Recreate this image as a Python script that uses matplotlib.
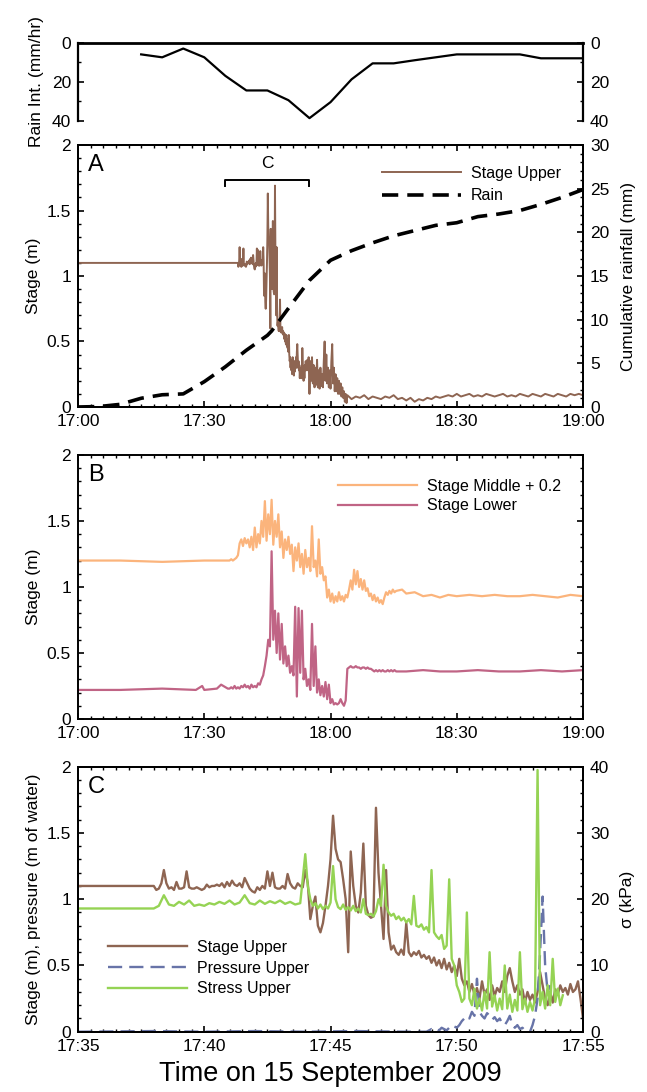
import numpy as np
import matplotlib
matplotlib.use("Agg")
import matplotlib.pyplot as plt
from matplotlib.ticker import MultipleLocator, FixedLocator, FuncFormatter

plt.rcParams["font.family"] = ["Liberation Sans", "DejaVu Sans"]
plt.rcParams["font.size"] = 12

# time is minutes after 17:00 on 15 September 2009

# ---- rain intensity (mm/hr), 5 min steps from 17:15
rain_int_t = [15, 20, 25, 30, 35, 40, 45, 50, 55, 60, 65, 70, 75, 80, 85, 90, 95, 100, 105, 110, 115, 120]
rain_int = [6, 7.5, 3, 7.5, 17, 24.5, 24.5, 29.5, 38.7, 30.5, 18.8, 10.6, 10.6, 9, 7.5, 6, 6, 6, 6, 8, 8, 8]

# ---- cumulative rainfall (mm)
rain_cum_t = [0, 5, 10, 15, 20, 25, 30, 35, 40, 45, 46, 50, 55, 60, 65, 70, 75, 80, 85, 90, 95, 100, 105, 110, 115, 120]
rain_cum = [0, 0.05, 0.3, 1.0, 1.4, 1.5, 2.9, 4.6, 6.5, 8.2, 8.7, 11.3, 14.5, 16.8, 17.9, 18.8, 19.6, 20.2, 20.8,
            21.1, 21.8, 22.1, 22.5, 23.2, 24.0, 24.9]

# ---- stage upper (m)
upper_pre_t = [0.0, 20.0, 37.9]
upper_pre = [1.10, 1.10, 1.10]
# 0.1 min steps 17:38.0 - 17:55.0
upper_fine = [
    1.10, 1.07, 1.08, 1.12, 1.22, 1.12, 1.08, 1.09, 1.07, 1.13,
    1.08, 1.08, 1.09, 1.21, 1.09, 1.08, 1.08, 1.09, 1.08, 1.07,
    1.08, 1.11, 1.09, 1.10, 1.10, 1.11, 1.10, 1.12, 1.09, 1.13,
    1.10, 1.14, 1.11, 1.10, 1.12, 1.09, 1.16, 1.12, 1.08, 1.06,
    1.05, 1.09, 1.07, 1.10, 1.08, 1.21, 1.10, 1.20, 1.09, 1.08,
    1.08, 1.10, 1.08, 1.19, 1.12, 1.09, 1.08, 1.12, 1.10, 1.09,
    1.22, 1.12, 0.85, 0.95, 1.02, 0.80, 0.75, 0.82, 0.95, 1.10,
    1.30, 1.63, 1.38, 1.30, 1.28, 1.15, 1.00, 0.60, 1.36, 1.10,
    0.95, 0.90, 1.05, 1.42, 0.95, 0.88, 0.86, 0.87, 1.69, 1.20,
    0.95, 0.70, 1.22, 0.75, 0.62, 0.65, 0.60, 0.58, 0.62, 0.58,
    0.82, 0.60, 0.57, 0.60, 0.58, 0.61, 0.56, 0.58, 0.55, 0.57,
    0.52, 0.56, 0.50, 0.54, 0.48, 0.55, 0.47, 0.52, 0.45, 0.50,
    0.42, 0.55, 0.40, 0.35, 0.38, 0.30, 0.36, 0.28, 0.33, 0.25,
    0.38, 0.28, 0.32, 0.24, 0.35, 0.27, 0.33, 0.30, 0.38, 0.30,
    0.42, 0.48, 0.38, 0.30, 0.35, 0.28, 0.32, 0.22, 0.30, 0.24,
    0.28, 0.22, 0.30, 0.45, 0.35, 0.25, 0.20, 0.30, 0.22, 0.32,
    0.28, 0.35, 0.30, 0.33, 0.28, 0.36, 0.30, 0.32, 0.38, 0.25,
    0.10,
]
# 0.2 min steps 17:55.2 - 18:04.0
upper_mid = [
    0.35, 0.20, 0.38, 0.18, 0.32, 0.15, 0.30, 0.17, 0.36, 0.15,
    0.28, 0.14, 0.30, 0.16, 0.25, 0.15, 0.35, 0.50, 0.20, 0.40,
    0.18, 0.30, 0.15, 0.28, 0.14, 0.35, 0.48, 0.18, 0.30, 0.12,
    0.25, 0.12, 0.22, 0.10, 0.20, 0.10, 0.18, 0.08, 0.15, 0.07,
    0.12, 0.04, 0.10, 0.03, 0.09,
]
# 1 min steps 18:05 - 19:00
upper_tail = [
    0.06, 0.08, 0.07, 0.09, 0.06, 0.08, 0.07, 0.06, 0.08, 0.07,
    0.09, 0.06, 0.07, 0.05, 0.07, 0.04, 0.06, 0.05, 0.07, 0.06,
    0.08, 0.07, 0.08, 0.09, 0.08, 0.10, 0.08, 0.09, 0.10, 0.08,
    0.09, 0.08, 0.10, 0.09, 0.08, 0.09, 0.10, 0.08, 0.09, 0.08,
    0.10, 0.09, 0.08, 0.10, 0.09, 0.08, 0.10, 0.09, 0.08, 0.10,
    0.09, 0.08, 0.10, 0.09, 0.10, 0.09,
]

# ---- stage middle + 0.2 and stage lower (m), 0.4 min steps 17:36.0 - 18:15.6
middle_pre_t = [0, 10, 20, 30, 35.6]
middle_pre = [1.20, 1.20, 1.19, 1.20, 1.20]
middle_fine = [
    1.20, 1.21, 1.20, 1.21, 1.22, 1.24, 1.33, 1.36, 1.31, 1.37,
    1.33, 1.36, 1.30, 1.38, 1.28, 1.45, 1.30, 1.40, 1.33, 1.50,
    1.38, 1.65, 1.35, 1.55, 1.40, 1.66, 1.32, 1.50, 1.38, 1.55,
    1.30, 1.42, 1.22, 1.36, 1.28, 1.38, 1.25, 1.32, 1.12, 1.30,
    1.20, 1.33, 1.15, 1.25, 1.10, 1.28, 1.15, 1.22, 1.12, 1.46,
    1.15, 1.20, 1.08, 1.36, 1.10, 1.15, 1.05, 1.08, 0.92, 0.98,
    0.89, 0.95, 0.88, 0.93, 0.89, 0.96, 0.90, 0.93, 0.89, 0.94,
    0.92, 0.98, 1.05, 0.98, 1.13, 1.02, 1.12, 1.00, 1.06, 0.98,
    1.05, 0.97, 0.99, 0.93, 0.95, 0.90, 0.94, 0.89, 0.92, 0.88,
    0.90, 0.87, 0.92, 0.96, 0.94, 0.97, 0.95, 0.98, 0.96, 0.97,
]
middle_post_t = [77, 78, 80, 82, 84, 86, 88, 90, 93, 96, 99, 102, 105, 108, 111, 114, 117, 120]
middle_post = [0.98, 0.95, 0.96, 0.93, 0.94, 0.92, 0.94, 0.93, 0.94, 0.93, 0.94, 0.93, 0.93, 0.94, 0.93, 0.92, 0.94, 0.93]

lower_pre_t = [0, 10, 20, 28, 29.5, 30, 33, 34, 35.6]
lower_pre = [0.22, 0.22, 0.23, 0.22, 0.25, 0.22, 0.23, 0.26, 0.23]
lower_fine = [
    0.23, 0.24, 0.23, 0.25, 0.23, 0.24, 0.23, 0.25, 0.24, 0.26,
    0.24, 0.25, 0.23, 0.26, 0.24, 0.25, 0.24, 0.27, 0.26, 0.30,
    0.33, 0.40, 0.48, 0.60, 0.55, 1.27, 0.60, 0.82, 0.50, 0.80,
    0.45, 0.72, 0.42, 0.55, 0.40, 0.48, 0.35, 0.40, 0.33, 0.85,
    0.17, 0.84, 0.35, 0.82, 0.30, 0.38, 0.25, 0.30, 0.22, 0.72,
    0.25, 0.55, 0.20, 0.30, 0.18, 0.25, 0.17, 0.28, 0.15, 0.26,
    0.12, 0.15, 0.11, 0.12, 0.11, 0.12, 0.15, 0.12, 0.10, 0.14,
    0.38, 0.39, 0.40, 0.39, 0.39, 0.40, 0.39, 0.39, 0.38, 0.39,
    0.39, 0.38, 0.39, 0.38, 0.38, 0.37, 0.36, 0.37, 0.36, 0.37,
    0.36, 0.37, 0.36, 0.36, 0.37, 0.36, 0.37, 0.36, 0.37, 0.36,
]
lower_post_t = [78, 82, 86, 90, 95, 100, 105, 110, 115, 120]
lower_post = [0.36, 0.37, 0.36, 0.36, 0.37, 0.36, 0.36, 0.37, 0.36, 0.37]

# ---- stress upper (kPa)
stress_pre_t = [35.0, 37.8]
stress_pre = [18.6, 18.6]
# 0.2 min steps 17:38.0 - 17:43.8
stress_mid = [
    18.6, 19.0, 20.6, 19.2, 19.0, 19.6, 19.2, 19.8, 19.0, 19.2,
    19.0, 19.4, 19.2, 19.6, 19.3, 19.8, 19.2, 19.5, 20.6, 19.4,
    19.2, 19.8, 19.3, 19.7, 19.4, 19.8, 19.3, 19.6, 19.2, 19.4,
]
# 0.1 min steps 17:44.0 - 17:54.2
stress_fine = [
    26.8, 22.0, 20.0, 19.0, 19.4, 18.6, 19.2, 18.5, 19.0, 18.6,
    19.5, 25.0, 20.0, 18.8, 18.5, 19.2, 18.4, 18.8, 18.3, 19.0,
    18.2, 18.6, 18.0, 20.0, 17.8, 17.6, 17.8, 17.4, 18.2, 20.0,
    19.0, 25.2, 19.0, 18.0, 17.5, 17.8, 17.0, 17.4, 16.8, 17.2,
    16.5, 17.0, 16.2, 20.5, 16.0, 15.8, 16.2, 15.4, 15.8, 15.0,
    24.4, 15.0, 14.4, 14.0, 14.6, 12.5, 13.0, 23.0, 11.0, 10.0,
    7.0, 6.0, 4.5, 5.0, 18.0, 5.0, 4.0, 6.5, 3.5, 5.0,
    3.2, 6.0, 3.5, 12.0, 3.8, 5.5, 3.2, 5.0, 3.4, 10.0,
    3.5, 5.6, 3.0, 4.8, 3.2, 12.0, 3.4, 5.0, 3.0, 4.5,
    3.2, 5.0, 39.5, 4.0, 6.0, 3.5, 7.0, 4.0, 11.0, 4.5,
    6.5, 4.0, 5.5,
]

# ---- pressure upper (m of water)
pressure_pre_t = [35.0, 38.0, 40.0, 42.0, 44.0, 46.0, 48.0, 48.7]
pressure_pre = [0.0, 0.005, 0.0, 0.005, 0.0, 0.005, 0.0, 0.0]
# 0.1 min steps 17:48.8 - 17:53.7
pressure_fine = [
    0.00, 0.01, 0.02, 0.01, 0.02, 0.01, 0.03, 0.02, 0.01, 0.03,
    0.02, 0.04, 0.03, 0.05, 0.08, 0.10, 0.12, 0.10, 0.15, 0.12,
    0.40, 0.15, 0.12, 0.10, 0.14, 0.12, 0.09, 0.11, 0.08, 0.10,
    0.06, 0.05, 0.08, 0.12, 0.05, 0.03, 0.05, 0.02, 0.03, 0.01,
    0.00, 0.00, 0.05, 0.12, 0.25, 0.60, 1.02, 0.50, 0.30, 0.35,
]

# ---- assemble time axes
upper_t = np.concatenate([upper_pre_t, 38.0 + 0.1 * np.arange(len(upper_fine)),
                          55.2 + 0.2 * np.arange(len(upper_mid)), 65.0 + np.arange(len(upper_tail))])
upper = np.concatenate([upper_pre, upper_fine, upper_mid, upper_tail])
middle_t = np.concatenate([middle_pre_t, 36.0 + 0.4 * np.arange(len(middle_fine)), middle_post_t])
middle = np.concatenate([middle_pre, middle_fine, middle_post])
lower_t = np.concatenate([lower_pre_t, 36.0 + 0.4 * np.arange(len(lower_fine)), lower_post_t])
lower = np.concatenate([lower_pre, lower_fine, lower_post])
stress_t = np.concatenate([stress_pre_t, 38.0 + 0.2 * np.arange(len(stress_mid)),
                           44.0 + 0.1 * np.arange(len(stress_fine))])
stress = np.concatenate([stress_pre, stress_mid, stress_fine])
pressure_t = np.concatenate([pressure_pre_t, 48.8 + 0.1 * np.arange(len(pressure_fine))])
pressure = np.concatenate([pressure_pre, pressure_fine])

c_upper = "#8e6552"
c_middle = "#fbb47c"
c_lower = "#c06485"
c_stress = "#95d354"
c_pressure = "#6874a8"

long_ticks = [0, 30, 60, 90, 120]
long_labels = ["17:00", "17:30", "18:00", "18:30", "19:00"]
short_ticks = [35, 40, 45, 50, 55]
short_labels = ["17:35", "17:40", "17:45", "17:50", "17:55"]
fmt = FuncFormatter(lambda v, p: f"{v:g}")


def style(ax, top=True, right=True):
    for s in ax.spines.values():
        s.set_linewidth(1.4)
    ax.tick_params(which="both", direction="in", top=top, right=right, labelsize=12.5, pad=5)
    ax.tick_params(which="major", length=4, width=1.2)
    ax.tick_params(which="minor", length=2, width=1)


fig = plt.figure(figsize=(6.47, 10.92), dpi=100)
L, W = 0.1206, 0.7805
ax_r = fig.add_axes([L, 0.8895, W, 0.0714])
ax_a = fig.add_axes([L, 0.6273, W, 0.2399])
ax_b = fig.add_axes([L, 0.3416, W, 0.2418])
ax_c = fig.add_axes([L, 0.0552, W, 0.2427])

# rain intensity
ax_r.plot(rain_int_t, rain_int, color="k", lw=1.6)
ax_r.set_xlim(0, 120)
ax_r.set_ylim(40, 0)
ax_r.spines["bottom"].set_visible(False)
ax_r.spines["top"].set_linewidth(2)
for s in ["left", "right"]:
    ax_r.spines[s].set_linewidth(1.6)
ax_r.set_xticks([])
ax_r.yaxis.set_major_locator(FixedLocator([0, 20, 40]))
ax_r.yaxis.set_minor_locator(FixedLocator([10, 30]))
ax_r.tick_params(which="both", direction="in", left=True, right=True, labelleft=True, labelright=True,
                 labelsize=12.5, pad=5)
ax_r.tick_params(which="major", length=4, width=1.2)
ax_r.tick_params(which="minor", length=2, width=1)
ax_r.set_ylabel("Rain Int. (mm/hr)", fontsize=12.5, labelpad=6)

# panel A
ax_a2 = ax_a.twinx()
ln1, = ax_a.plot(upper_t, upper, color=c_upper, lw=1.4, label="Stage Upper")
ln2, = ax_a2.plot(rain_cum_t, rain_cum, color="k", lw=2.6, ls=(0, (4.5, 2.5)), label="Rain")
ax_a.plot([35, 35, 55, 55], [1.69, 1.73, 1.73, 1.69], color="k", lw=1.4)
ax_a.text(45, 1.80, "C", ha="center", va="bottom", fontsize=12.5)
ax_a.set_xlim(0, 120)
ax_a.set_ylim(0, 2)
ax_a2.set_ylim(0, 30)
ax_a.set_ylabel("Stage (m)", fontsize=12.5)
ax_a2.set_ylabel("Cumulative rainfall (mm)", fontsize=12.5, labelpad=8)
ax_a.text(0.02, 0.965, "A", transform=ax_a.transAxes, fontsize=17, va="top")
ax_a.legend([ln1, ln2], ["Stage Upper", "Rain"], loc="upper right", bbox_to_anchor=(0.985, 0.975),
            frameon=False, fontsize=11.5, handlelength=5.0, handletextpad=0.6, labelspacing=0.45)

# panel B
ax_b.plot(middle_t, middle, color=c_middle, lw=1.6, label="Stage Middle + 0.2")
ax_b.plot(lower_t, lower, color=c_lower, lw=1.6, label="Stage Lower")
ax_b.set_xlim(0, 120)
ax_b.set_ylim(0, 2)
ax_b.set_ylabel("Stage (m)", fontsize=12.5)
ax_b.text(0.02, 0.965, "B", transform=ax_b.transAxes, fontsize=17, va="top")
ax_b.legend(loc="upper right", bbox_to_anchor=(0.985, 0.965), frameon=False, fontsize=11.5,
            handlelength=5.0, handletextpad=0.6, labelspacing=0.3)

# panel C
ax_c2 = ax_c.twinx()
h1, = ax_c.plot(upper_t, upper, color=c_upper, lw=1.7)
h2, = ax_c.plot(pressure_t, pressure, color=c_pressure, lw=1.7, ls=(0, (6, 3)))
h3, = ax_c2.plot(stress_t, stress, color=c_stress, lw=1.7)
ax_c.set_xlim(35, 55)
ax_c.set_ylim(0, 2)
ax_c2.set_ylim(0, 40)
ax_c.set_ylabel("Stage (m), pressure (m of water)", fontsize=12.5)
ax_c2.set_ylabel("\u03c3 (kPa)", fontsize=12.5, labelpad=8)
ax_c.set_xlabel("Time on 15 September 2009", fontsize=19.5, labelpad=5)
ax_c.text(0.02, 0.965, "C", transform=ax_c.transAxes, fontsize=17, va="top")
ax_c2.legend([h1, h2, h3], ["Stage Upper", "Pressure Upper", "Stress Upper"], loc="lower left",
             bbox_to_anchor=(0.03, 0.08), frameon=False, fontsize=11.5, handlelength=5.0,
             handletextpad=0.6, labelspacing=0.35)

for ax in [ax_a, ax_b]:
    ax.xaxis.set_major_locator(FixedLocator(long_ticks))
    ax.set_xticklabels(long_labels)
    ax.xaxis.set_minor_locator(MultipleLocator(3))
ax_c.xaxis.set_major_locator(FixedLocator(short_ticks))
ax_c.set_xticklabels(short_labels)
ax_c.xaxis.set_minor_locator(MultipleLocator(0.5))

for ax in [ax_a, ax_b, ax_c]:
    ax.yaxis.set_major_locator(MultipleLocator(0.5))
    ax.yaxis.set_minor_locator(MultipleLocator(0.1))
    ax.yaxis.set_major_formatter(fmt)
style(ax_a, right=False)
style(ax_b)
style(ax_c, right=False)
ax_a2.yaxis.set_major_locator(MultipleLocator(5))
ax_a2.yaxis.set_minor_locator(MultipleLocator(1))
ax_c2.yaxis.set_major_locator(MultipleLocator(10))
ax_c2.yaxis.set_minor_locator(MultipleLocator(2))
for ax in [ax_a2, ax_c2]:
    ax.tick_params(which="both", direction="in", labelsize=12.5, pad=5)
    ax.tick_params(which="major", length=4, width=1.2)
    ax.tick_params(which="minor", length=2, width=1)
    for s in ax.spines.values():
        s.set_linewidth(1.4)

fig.savefig("out.png", dpi=100)
